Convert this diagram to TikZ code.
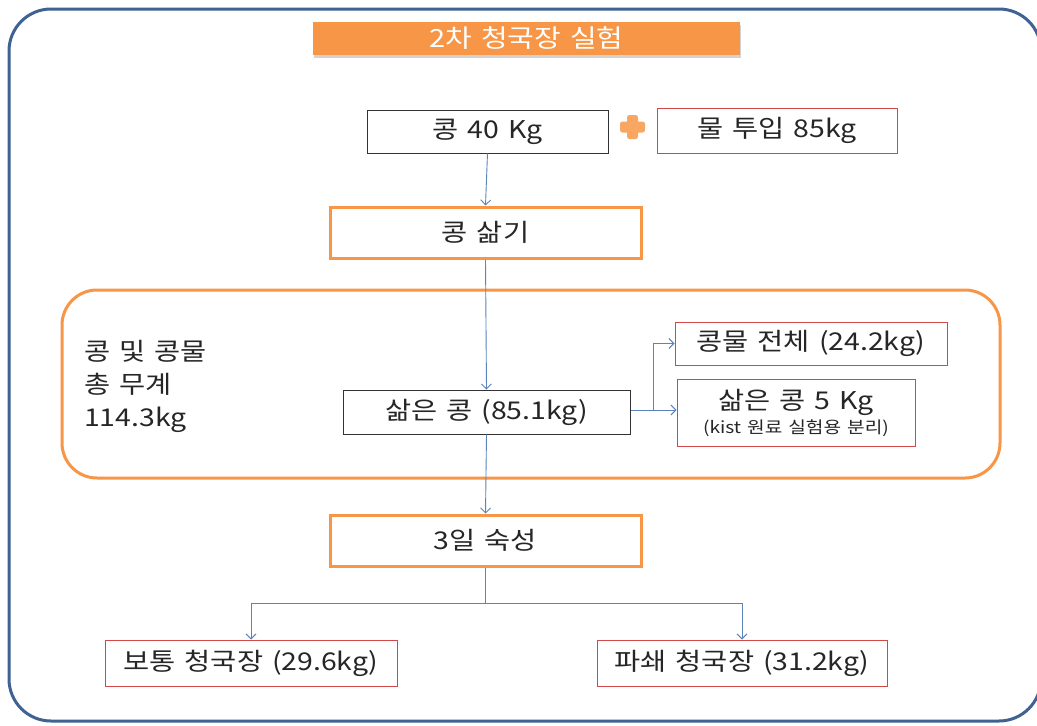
\documentclass[tikz,border=0pt]{standalone}
\usepackage{fontspec}
\setmainfont{Noto Sans CJK KR}[FakeStretch=1.16, WordSpace=1.4]
\usetikzlibrary{shadows,arrows.meta}
\definecolor{ora}{HTML}{F79646}
\definecolor{redb}{HTML}{D04848}
\definecolor{conn}{HTML}{5B84BC}
\definecolor{outer}{HTML}{3E6291}
\begin{document}
\begin{tikzpicture}[x=1pt,y=-1pt,
  txt/.style={font=\fontsize{24.5}{28}\selectfont, inner sep=0pt, text=black!85},
  blackbox/.style={txt, draw=black!80, line width=1pt, fill=white},
  redbox/.style={txt, draw=redb, line width=1pt, fill=white},
  orabox/.style={txt, draw=ora, line width=3pt, fill=white},
  conline/.style={draw=conn, line width=0.9pt},
  conarrow/.style={conline, -{Straight Barb[length=5pt,width=10pt]}}]
\clip (0,0) rectangle (1037,726);
\fill[white] (0,0) rectangle (1037,726);
% outer frame
\draw[outer, line width=3pt, rounded corners=42pt] (9,9) rectangle (1041,721);
% title
\node[fill=ora, minimum width=427pt, minimum height=33pt, inner sep=0pt,
  drop shadow={opacity=0.35, shadow xshift=1pt, shadow yshift=-3pt},
  text=white, font=\fontsize{25}{28}\selectfont] (title) at (526.5,38.5) {2차 청국장 실험};
% big rounded group
\draw[ora, line width=3pt, rounded corners=35pt] (62,290) rectangle (1000,478);
% nodes
\node[blackbox, minimum width=241pt, minimum height=43pt] (kong) at (487.5,131.5) {콩 40 Kg};
\node[redbox, minimum width=240pt, minimum height=45pt] (water) at (777,130.5) {물 투입 85kg};
\node[orabox, minimum width=311pt, minimum height=51pt] (boil) at (485.5,232.5) {콩 삶기};
\node[blackbox, minimum width=287pt, minimum height=44pt] (boiled) at (486.5,412) {삶은 콩 (85.1kg)};
\node[redbox, minimum width=272pt, minimum height=43pt] (broth) at (811,343.5) {콩물 전체 (24.2kg)};
\node[redbox, minimum width=238pt, minimum height=67pt, align=center] (five) at (796,412.5)
  {삶은 콩 5 Kg\\[-4pt]{\fontsize{16.5}{19}\selectfont (kist 원료 실험용 분리)}};
\node[orabox, minimum width=311pt, minimum height=51pt] (ferm) at (485.5,540.5) {3일 숙성};
\node[redbox, minimum width=292pt, minimum height=46pt] (normal) at (251,663) {보통 청국장 (29.6kg)};
\node[redbox, minimum width=290pt, minimum height=46pt] (crush) at (742,663) {파쇄 청국장 (31.2kg)};
\node[txt, align=left, anchor=north west, font=\fontsize{24.5}{33}\selectfont] (total) at (84,340)
  {콩 및 콩물\\총 무계\\114.3kg};
% plus sign
\fill[ora!85!white, rounded corners=2.5pt]
  (627,115) rectangle (638,139) (620,121.5) rectangle (645,132.5);
% connectors
\draw[conarrow] (kong.south) -- (boil.north);
\draw[conarrow] (boil.south) -- (boiled.north);
\draw[conarrow] (boiled.south) -- (ferm.north);
\coordinate (br) at (653,410);
\draw[conline] (boiled.east |- br) -- (br);
\draw[conarrow] (br) |- (broth.west);
\draw[conarrow] (br) -- (five.west |- br);
\coordinate (sp) at (485.5,603);
\draw[conline] (ferm.south) -- (sp);
\draw[conarrow] (sp) -| (normal.north);
\draw[conarrow] (sp) -| (crush.north);
\end{tikzpicture}
\end{document}
